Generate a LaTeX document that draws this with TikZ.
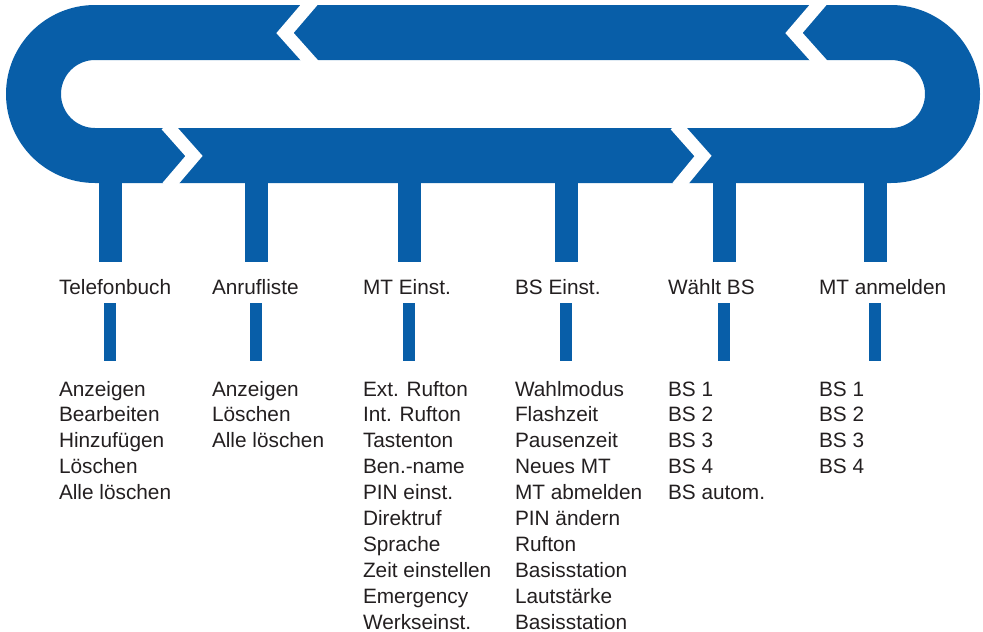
\documentclass[tikz,border=0pt]{standalone}
\usepackage{fontspec}
\setmainfont{Liberation Sans}
\definecolor{menublue}{RGB}{8,94,168}
\definecolor{menutext}{RGB}{35,31,32}

\begin{document}
\begin{tikzpicture}[x=1pt,y=1pt,
  every node/.style={inner sep=0pt,outer sep=0pt,text=menutext,
    font=\fontsize{20.8pt}{25.9pt}\selectfont},
  head/.style={anchor=base west},
  entry/.style={anchor=base west},
  stem/.style={menublue,line width=23pt},
  bar/.style={menublue,line width=11.5pt},
  notch/.style={white,line width=13pt,miter limit=10}]
\useasboundingbox (0,0) rectangle (983,-632);
% the loop
\fill [menublue,even odd rule]
  (95,-5) -- (891,-5) arc[start angle=90,end angle=-90,radius=89]
  -- (95,-183) arc[start angle=270,end angle=90,radius=89] -- cycle
  (95,-60) -- (891,-60) arc[start angle=90,end angle=-90,radius=34]
  -- (95,-128) arc[start angle=270,end angle=90,radius=34] -- cycle;
% arrow gaps, upper run to the left, lower run to the right
\draw [notch] (312.4,-1) -- (285,-33) -- (313.6,-65);
\draw [notch] (821.4,-1) -- (794,-33) -- (822.6,-65);
\draw [notch] (166.5,-125) -- (194,-156) -- (167.5,-187);
\draw [notch] (675.5,-125) -- (703,-156) -- (677.5,-187);
% menu columns
\foreach \x/\hx/\name/\head in {110/59/tb/Telefonbuch, 256/212/al/Anrufliste,
    409/363/mt/MT Einst., 566/515/bs/BS Einst., 724/668/wb/Wählt BS,
    875/819/an/MT anmelden}
{
  \coordinate (\name-top) at (\x,-178);
  \coordinate (\name-end) at (\x,-262);
  \draw [stem] (\name-top) -- (\name-end);
  \node [head] (\name) at (\hx,-294) {\head};
  \coordinate (\name-bar) at (\x,-303);
  \coordinate (\name-barend) at (\x,-361);
  \draw [bar] (\name-bar) -- (\name-barend);
}
% entries below each heading
\foreach \item [count=\i] in {Anzeigen,Bearbeiten,Hinzufügen,Löschen,Alle löschen}
  \node [entry] (tb-\i) at (59,-396-25.9*\i+25.9) {\item};
\foreach \item [count=\i] in {Anzeigen,Löschen,Alle löschen}
  \node [entry] (al-\i) at (212,-396-25.9*\i+25.9) {\item};
\foreach \item [count=\i] in {Ext. Rufton,Int. Rufton,Tastenton,Ben.-name,
    PIN einst.,Direktruf,Sprache,Zeit einstellen,Emergency,Werkseinst.}
  \node [entry] (mt-\i) at (363,-396-25.9*\i+25.9) {\item};
\foreach \item [count=\i] in {Wahlmodus,Flashzeit,Pausenzeit,Neues MT,
    MT abmelden,PIN ändern,Rufton,Basisstation,Lautstärke,Basisstation}
  \node [entry] (bs-\i) at (515,-396-25.9*\i+25.9) {\item};
\foreach \item [count=\i] in {BS 1,BS 2,BS 3,BS 4,BS autom.}
  \node [entry] (wb-\i) at (668,-396-25.9*\i+25.9) {\item};
\foreach \item [count=\i] in {BS 1,BS 2,BS 3,BS 4}
  \node [entry] (an-\i) at (819,-396-25.9*\i+25.9) {\item};
\end{tikzpicture}
\end{document}
